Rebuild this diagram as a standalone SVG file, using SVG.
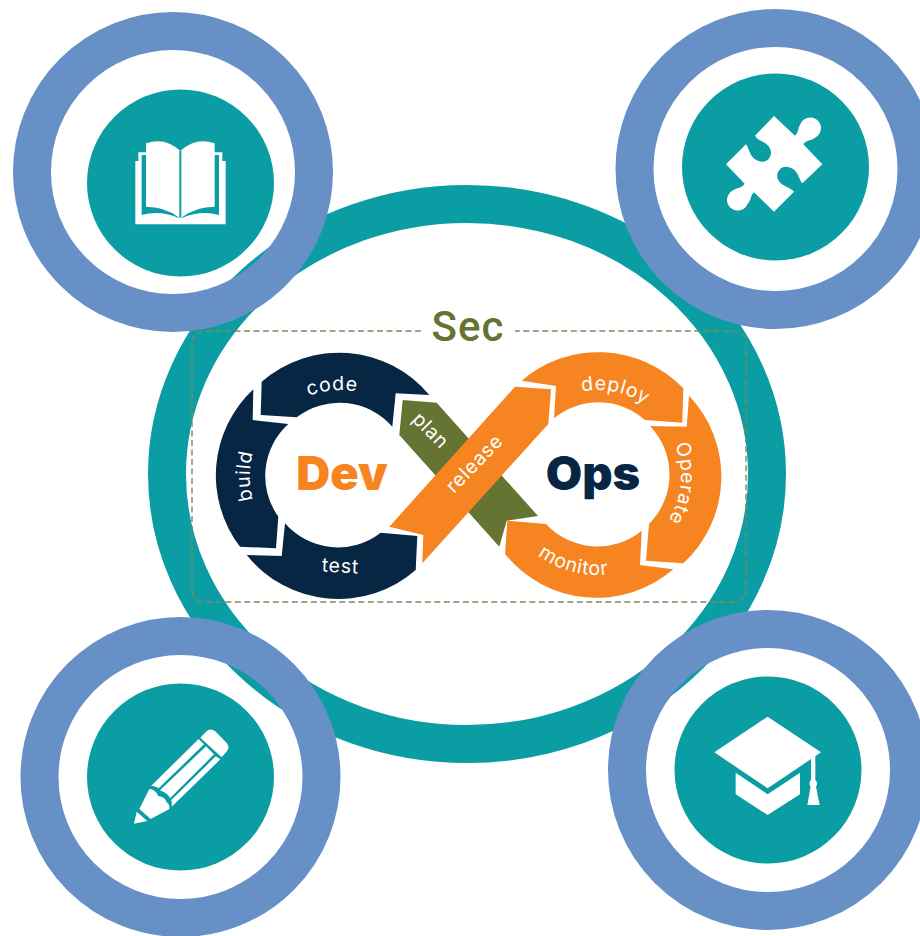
<svg xmlns="http://www.w3.org/2000/svg" width="920" height="936" viewBox="0 0 920 936">
<style>
.ring{fill:none;stroke:#6790c6;stroke-width:38}
.hub{fill:#0b9da4}
.ic{fill:#fff}
.gap{fill:#0b9da4}
.lbl{font-family:"Inter","Liberation Sans",sans-serif;font-size:19.5px;letter-spacing:.7px;fill:#fff;text-anchor:middle}
.big{font-family:"Inter","Liberation Sans",sans-serif;font-size:47px;font-weight:900;text-anchor:middle}
.navy{fill:#062644}.orange{fill:#f68521}.green{fill:#667433}
.dash{fill:none;stroke:#7d8a58;stroke-width:1.4;stroke-dasharray:6 3.5}
</style>
<defs>
<path id="pCode" d="M279.2,415.2A86,86 0 0 1 389.3,405.6"/>
<path id="pBuild" d="M271,534A90,90 0 0 1 271,418"/>
<path id="pTest" d="M300,570.5L380,574.7"/>
<path id="pDeploy" d="M556.6,400.1A86,86 0 0 1 664.8,423.1"/>
<path id="pOperate" d="M656.4,416.6A84,84 0 0 1 645.2,544.8"/>
<path id="pMonitor" d="M511.3,525.5A99,99 0 0 0 646.5,561.7"/>
</defs>
<g id="backdrop">
<ellipse cx="467" cy="474" rx="300" ry="270" fill="#fff" stroke="#0b9da4" stroke-width="38"/>
</g>
<g id="sec-frame">
<path class="dash" d="M421,331H206Q192,331 192,345V588Q192,602 206,602H732Q746,602 746,588V345Q746,331 732,331H515"/>
<text x="468" y="341" font-family="Roboto,'Liberation Sans',sans-serif" font-size="42" font-weight="500" letter-spacing="1" fill="#667433" text-anchor="middle">Sec</text>
</g>
<g id="connectors"></g>
<g id="devops-loop">
<g id="plan"><path class="green" d="M402.7,400L436.7,402.7L538,516L506.7,520.7L499.3,546.7L399.3,435Z"/>
<text class="lbl" transform="translate(426,435) rotate(45)">plan</text></g>
<g id="release"><path class="orange" d="M515,386.7L551,389.3L548.3,424L422.3,563.3L423.3,535L389.3,526.7Z"/>
<text class="lbl" transform="translate(479,468) rotate(-46)">release</text></g>
<g id="code"><path class="navy" d="M261.7,381.7A117.500,117.500 0 0 1 429.3,395L395.700,393.3L392.300,426.700A70,70 0 0 0 296.700,417.300L260.700,415Z"/>
<text class="lbl"><textPath href="#pCode" startOffset="50%">code</textPath></text></g>
<g id="build"><path class="navy" d="M253.3,389.3L252.7,420L288.300,424A70,70 0 0 0 278.300,516.700L276,548.300L240,546.700A117.500,117.500 0 0 1 253.300,389.300Z"/>
<text class="lbl"><textPath href="#pBuild" startOffset="50%">build</textPath></text></g>
<g id="test"><path class="navy" d="M285,523.3A70,70 0 0 0 380.700,532.700L417.300,536L415.700,570A117.500,117.500 0 0 1 246.700,555L281.700,556Z"/>
<text class="lbl"><textPath href="#pTest" startOffset="50%">test</textPath></text></g>
<g id="deploy"><path class="orange" d="M521.700,380.700A117.500,117.500 0 0 1 683.300,388.300L682.300,422.700L645,420A70,70 0 0 0 554,418.300L556,386Z"/>
<text class="lbl"><textPath href="#pDeploy" startOffset="50%">deploy</textPath></text></g>
<g id="operate"><path class="orange" d="M689,395.700A117.500,117.500 0 0 1 683.300,563.300L646,560.700L649,524A70,70 0 0 0 650,426L686.700,426.700Z"/>
<text class="lbl"><textPath href="#pOperate" startOffset="50%">Operate</textPath></text></g>
<g id="monitor"><path class="orange" d="M507.300,520.700L546,524A70,70 0 0 0 641.700,530.700L640,565L673.300,569.300A117.500,117.500 0 0 1 505,554Z"/>
<text class="lbl"><textPath href="#pMonitor" startOffset="50%">monitor</textPath></text></g>
<g id="dev-title"><text class="big orange" x="342" y="490">Dev</text></g>
<g id="ops-title"><text class="big navy" x="593" y="490">Ops</text></g>
</g>
<g id="node-book">
<circle class="ring" cx="173" cy="172" r="141"/><circle class="hub" cx="180.500" cy="183" r="93.500"/>
<g transform="translate(120,125) scale(.33333)">
<path class="ic" d="M46,108H55V82H78V55Q135,35 181,78Q227,35 284,55V82H307V108H317V298H46Z"/>
<path class="gap" d="M65,90H78V245Q135,245 176,277L176,279Q120,255 65,270ZM297,90H284V245Q227,245 186,277L186,279Q242,255 297,270Z"/>
<rect class="gap" x="178" y="78" width="6" height="200"/>
</g>
</g>
<g id="node-puzzle">
<circle class="ring" cx="775.500" cy="169" r="141"/><circle class="hub" cx="775.500" cy="167" r="93.500"/>
<g transform="translate(715,105) scale(.33333)">
<path class="ic" d="M177,33L240,92C252,82 248,70 256,58A32,32 0 1 1 300,98C288,108 275,103 265,118L322,178L262,235C250,220 250,190 215,185A27,27 0 0 0 190,225C200,245 225,245 237,260L177,320L117,262C105,272 110,285 98,296A32,32 0 1 1 54,256C66,246 79,251 89,236L33,178L93,118C105,135 105,165 139,170A27,27 0 0 0 164,129C154,109 129,109 120,92Z"/>
</g>
</g>
<g id="node-pencil">
<circle class="ring" cx="180.500" cy="777" r="141"/><circle class="hub" cx="180.500" cy="777" r="93.500"/>
<g transform="translate(120,715) scale(.33333)">
<path class="ic" d="M241,68L258,50Q270,38 285,48L318,82Q332,95 320,110L305,127Z"/>
<path class="ic" d="M236,72L252,88L116,220Q105,212 93,213Z"/>
<path class="ic" d="M258,94L282,118L150,250Q146,236 120,226Z"/>
<path class="ic" d="M287,124L301,133L155,275Q156,262 154,255Z"/>
<path class="ic" d="M88,222Q105,222 115,243Q135,245 140,262Q150,268 148,282L92,312L58,282Z"/>
<path class="ic" d="M50,290L82,318L42,326Z"/>
</g>
</g>
<g id="node-cap">
<circle class="ring" cx="768" cy="770" r="141"/><circle class="hub" cx="768" cy="770" r="93.500"/>
<g transform="translate(705,705) scale(.33333)">
<path class="ic" d="M188,35L348,142L188,250L28,142Z"/>
<path class="ic" d="M92,203L188,268L285,203V268L188,330L92,268Z"/>
<path class="ic" d="M318,160L331,152V225A14,14 0 0 1 333,245L344,300H307L317,245A14,14 0 0 1 318,225Z"/>
</g>
</g>
</svg>
